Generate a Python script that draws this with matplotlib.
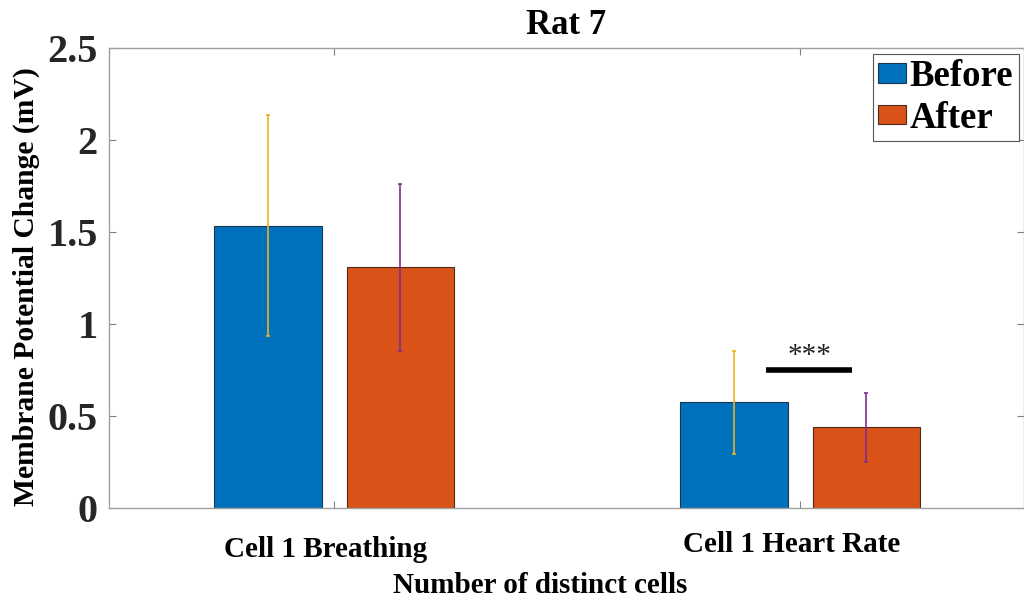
import numpy as np
import matplotlib
matplotlib.use("Agg")
import matplotlib.pyplot as plt
from matplotlib.transforms import ScaledTranslation

# data
groups = ["Cell 1 Breathing", "Cell 1 Heart Rate"]
before = np.array([1.533, 0.576])
after = np.array([1.31, 0.44])
before_lo = np.array([0.935, 0.293])
before_hi = np.array([2.136, 0.853])
after_lo = np.array([0.853, 0.25])
after_hi = np.array([1.76, 0.625])

plt.rcParams['font.family'] = ['Liberation Serif', 'DejaVu Serif']
plt.rcParams['font.weight'] = 'bold'

fig = plt.figure(figsize=(10.24, 6.02), dpi=100)
ax = fig.add_axes([109/1024, 94/602, 915/1024, 460/602])

x = np.arange(1, len(groups) + 1)
off = 0.142
w = 0.23

ax.bar(x - off, before, w, color='#0072BD', edgecolor='#1a3550', linewidth=0.8,
       label='Before', zorder=2)
ax.bar(x + off, after, w, color='#D95319', edgecolor='#4d2a1a', linewidth=0.8,
       label='After', zorder=2)

ax.errorbar(x - off, before, yerr=[before - before_lo, before_hi - before],
            fmt='none', ecolor='#EDB120', elinewidth=1.2, capsize=1.5, capthick=1.2, zorder=3)
ax.errorbar(x + off, after, yerr=[after - after_lo, after_hi - after],
            fmt='none', ecolor='#7E2F8E', elinewidth=1.2, capsize=1.5, capthick=1.2, zorder=3)

# significance marker
ax.plot([1.927, 2.111], [0.75, 0.75], color='black', linewidth=4, solid_capstyle='butt', zorder=4)
ax.text(2.019, 0.825, '***', ha='center', va='center', fontsize=21, fontweight='normal', color='#222222')

ax.set_xlim(0.517, 2.48)
ax.set_ylim(0, 2.5)
ax.set_xticks(x)
ax.set_xticklabels(groups, fontsize=21)
ax.set_yticks([0, 0.5, 1, 1.5, 2, 2.5])
ax.set_yticklabels(['0', '0.5', '1', '1.5', '2', '2.5'], fontsize=29)

ax.tick_params(axis='y', direction='in', length=5, width=0.8, color='#808080',
               right=True, pad=8, labelcolor='#262626')
ax.tick_params(axis='x', direction='in', length=5, width=0.8, color='#808080',
               top=True, pad=18, labelcolor='black')
# the two category labels sit a little left of their ticks, at slightly different heights
for lab, dy in zip(ax.get_xticklabels(), [-3, 2]):
    lab.set_transform(lab.get_transform() + ScaledTranslation(-9/100, dy/100, fig.dpi_scale_trans))

for s in ax.spines.values():
    s.set_color('#a0a0a0')
    s.set_linewidth(1.0)

ax.set_title('Rat 7', fontsize=25, fontweight='bold', pad=10)
ax.set_xlabel('Number of distinct cells', fontsize=21, fontweight='bold')
ax.xaxis.set_label_coords((540 - 109) / 915, -64 / 460)
ax.set_ylabel('Membrane Potential Change (mV)', fontsize=21.3, fontweight='bold')
ax.yaxis.set_label_coords(-69 / 915, (508 - 287) / 460)

leg = ax.legend(loc='upper right', bbox_to_anchor=(0.994, 0.988), fontsize=26.5,
                handlelength=0.75, handleheight=0.45, handletextpad=0.1,
                borderpad=0.15, labelspacing=0.18, borderaxespad=0.0, fancybox=False,
                framealpha=1)
leg.get_frame().set_edgecolor('#555555')
leg.get_frame().set_linewidth(0.8)

fig.savefig('out.png', dpi=100)
